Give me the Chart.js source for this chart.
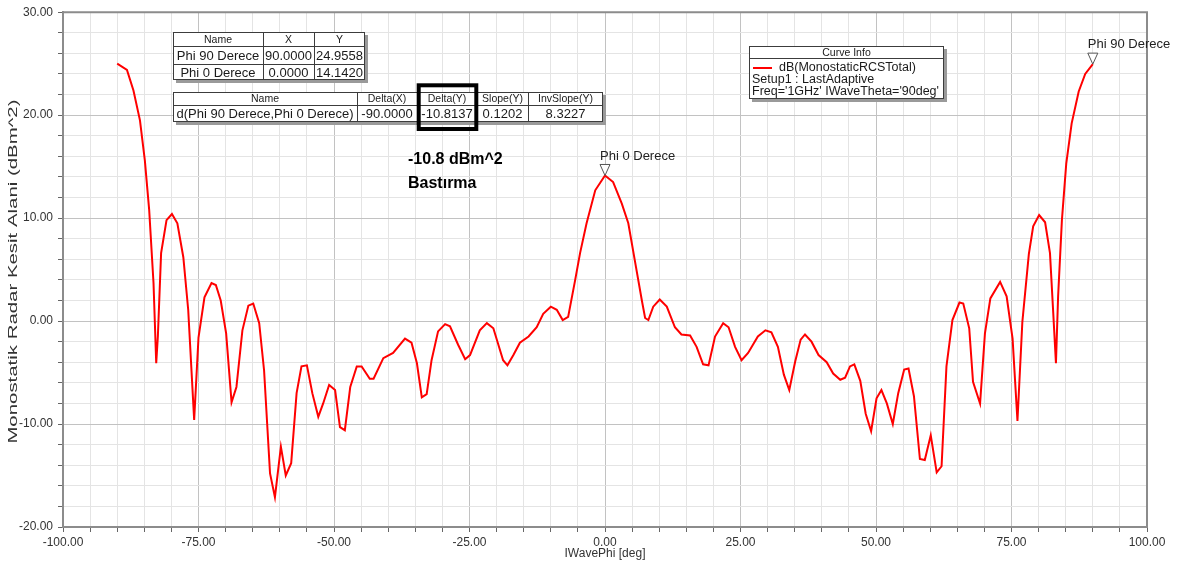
<!DOCTYPE html>
<html><head><meta charset="utf-8">
<script src="https://cdn.jsdelivr.net/npm/chart.js@4.4.1/dist/chart.umd.min.js"></script>
<style>html,body{margin:0;padding:0;background:#fff;}canvas{display:block}</style>
</head><body>
<canvas id="c" width="1177" height="565"></canvas>
<script>
// ---- data ----
const phiDeg = [-90,-88.2,-87,-85.8,-84.9,-84.1,-83.3,-82.8,-82.5,-81.9,
  -80.9,-79.9,-78.9,-77.8,-76.9,-75.8,-75,-73.9,-72.6,-71.8,
  -70.9,-69.9,-68.9,-68,-66.9,-65.8,-64.9,-63.8,-62.9,-61.8,
  -60.9,-59.8,-58.9,-57.9,-56.9,-56,-55,-54,-52.9,-52,
  -50.9,-49.8,-48.9,-48,-47,-45.8,-44.9,-43.4,-42.7,-40.9,
  -39.1,-36.9,-35.7,-34.7,-33.8,-32.9,-32,-30.8,-29.5,-28.6,
  -27.1,-25.8,-24.9,-23.1,-21.8,-20.6,-18.8,-18,-16.9,-15.7,
  -14.1,-12.6,-11.4,-10,-8.9,-7.8,-6.8,-5.5,-4.6,-3.4,
  -1.8,0,1.5,3.1,4.3,5.5,6.8,7.4,8,8.9,
  10.1,11.4,12.9,14.1,15.7,16.9,18.1,19.1,20.3,21.8,
  22.8,24,25.2,26.4,28.2,29.6,30.7,31.9,33,34,
  35.1,36.1,36.9,38.1,39.4,40.9,42.1,43.4,44.3,45.2,
  46,47.1,48.1,49.1,50.1,51,52,53.1,54.1,55.2,
  56,57,58.1,59,60.1,61.2,62.1,63,64.1,65.4,
  66.1,67.2,67.9,69.2,70.1,71.1,72.9,74.1,75.2,76.1,
  77,78.2,79,80.1,81.2,82.1,82.7,83.2,83.6,84.3,
  85.1,86.1,87.4,88.6,90];
const rcsDb = [25.0,24.4,22.4,19.5,15.6,10.8,3.7,-4.1,-1.5,6.6,
  9.8,10.4,9.5,6.2,1.1,-9.6,-1.6,2.3,3.7,3.5,
  2.0,-1.2,-7.9,-6.4,-0.9,1.5,1.7,-0.2,-4.8,-14.8,
  -17.1,-12.2,-15.0,-13.8,-7.0,-4.4,-4.3,-7.0,-9.3,-8.0,
  -6.2,-6.7,-10.3,-10.6,-6.4,-4.4,-4.4,-5.6,-5.6,-3.6,
  -3.1,-1.7,-2.1,-4.1,-7.4,-7.1,-3.8,-1.0,-0.3,-0.5,
  -2.3,-3.7,-3.3,-0.9,-0.2,-0.7,-3.8,-4.3,-3.3,-2.1,
  -1.5,-0.6,0.7,1.4,1.1,0.1,0.4,4.0,6.6,9.5,
  12.7,14.142,13.5,11.4,9.5,5.9,2.0,0.3,0.1,1.4,
  2.1,1.4,-0.6,-1.3,-1.4,-2.5,-4.2,-4.3,-1.5,-0.2,
  -0.6,-2.5,-3.8,-3.1,-1.5,-0.9,-1.1,-2.5,-5.2,-6.7,
  -3.9,-1.8,-1.3,-2.0,-3.3,-4.0,-5.1,-5.7,-5.5,-4.4,
  -4.2,-5.8,-9.0,-10.7,-7.5,-6.7,-8.0,-10.0,-7.0,-4.7,
  -4.6,-7.3,-13.4,-13.5,-11.1,-14.7,-14.1,-4.4,0.1,1.8,
  1.7,-0.7,-5.9,-8.0,-1.2,2.2,3.8,2.4,-1.7,-9.7,
  -0.1,6.5,9.2,10.3,9.6,6.6,0.8,-4.1,2.4,9.8,
  15.3,19.2,22.3,24.0,24.9558];

const xTickLabels = [-100,-75,-50,-25,0,25,50,75,100];
const yTickLabels = [-20,-10,0,10,20,30];

const markerNames = ['Phi 90 Derece','Phi 0 Derece'];
const markerPhi = [90, 0];
const markerRcs = [24.9558, 14.1420];

const deltaHeader = ['Name','Delta(X)','Delta(Y)','Slope(Y)','InvSlope(Y)'];
const deltaValues = ['d(Phi 90 Derece,Phi 0 Derece)','-90.0000','-10.8137','0.1202','8.3227'];

const curveName = 'dB(MonostaticRCSTotal)';
const curveInfoLines = ['Setup1 : LastAdaptive', "Freq='1GHz' IWaveTheta='90deg'"];
const noteLines = ['-10.8 dBm^2', 'Bastırma'];
const xTitle = 'IWavePhi [deg]';
const yTitle = 'Monostatik Radar Kesit Alani (dBm^2)';

// ---- styling ----
const FONT = "'Liberation Sans', Arial, sans-serif";
const gridMinor = '#e4e4e4', gridMajor = '#c2c2c2';

function drawTable(ctx, cols, rows, cells, fonts) {
  const L = cols[0], R = cols[cols.length-1], T = rows[0], B = rows[rows.length-1];
  ctx.fillStyle = '#9a9a9a';
  ctx.fillRect(L+3, T+3, R-L, B-T);
  ctx.fillStyle = '#ffffff';
  ctx.fillRect(L, T, R-L, B-T);
  ctx.strokeStyle = '#3c3c3c';
  ctx.lineWidth = 1;
  ctx.strokeRect(L+0.5, T+0.5, R-L-1, B-T-1);
  ctx.beginPath();
  for (let i = 1; i < cols.length-1; i++) { ctx.moveTo(cols[i]+0.5, T); ctx.lineTo(cols[i]+0.5, B); }
  for (let j = 1; j < rows.length-1; j++) { ctx.moveTo(L, rows[j]+0.5); ctx.lineTo(R, rows[j]+0.5); }
  ctx.stroke();
  ctx.fillStyle = '#1a1a1a';
  ctx.textAlign = 'center';
  ctx.textBaseline = 'middle';
  for (let j = 0; j < cells.length; j++) {
    ctx.font = fonts[j];
    for (let i = 0; i < cells[j].length; i++) {
      ctx.fillText(cells[j][i], (cols[i]+cols[i+1])/2, (rows[j]+rows[j+1])/2 + 1);
    }
  }
}

const annot = {
  id: 'annot',
  beforeDatasetsDraw(chart) {
    const {ctx, chartArea: a} = chart;
    ctx.save();
    ctx.strokeStyle = '#8c8c8c';
    ctx.lineWidth = 2;
    ctx.beginPath();
    ctx.moveTo(a.left, a.top); ctx.lineTo(a.right, a.top); ctx.lineTo(a.right, a.bottom);
    ctx.stroke();
    ctx.restore();
  },
  afterDraw(chart) {
    const {ctx, chartArea: a} = chart;
    const xs = chart.scales.x, ys = chart.scales.y;
    ctx.save();
    // y title (stretched like source)
    ctx.save();
    ctx.translate(14, (a.top + a.bottom)/2 + 2);
    ctx.rotate(-Math.PI/2);
    ctx.scale(1.7, 1);
    ctx.font = '12px ' + FONT;
    ctx.fillStyle = '#333';
    ctx.textAlign = 'center';
    ctx.textBaseline = 'middle';
    ctx.fillText(yTitle, 0, 0);
    ctx.restore();

    // markers
    for (let k = 0; k < markerNames.length; k++) {
      const px = xs.getPixelForValue(markerPhi[k]);
      const py = ys.getPixelForValue(markerRcs[k]);
      ctx.beginPath();
      ctx.moveTo(px-5, py-11); ctx.lineTo(px+5, py-11); ctx.lineTo(px, py); ctx.closePath();
      ctx.fillStyle = '#ffffff'; ctx.fill();
      ctx.strokeStyle = '#555'; ctx.lineWidth = 1; ctx.stroke();
      ctx.font = '13px ' + FONT;
      ctx.fillStyle = '#222';
      ctx.textAlign = 'left'; ctx.textBaseline = 'middle';
      ctx.fillText(markerNames[k], px-5, py-19.5);
    }

    // marker table
    const t1 = [['Name','X','Y']];
    for (let k = 0; k < markerNames.length; k++) t1.push([markerNames[k], markerPhi[k].toFixed(4), markerRcs[k].toFixed(4)]);
    drawTable(ctx, [173,263,314,365], [32,46,64,80], t1,
      ['10.5px '+FONT, '13px '+FONT, '13px '+FONT]);
    // delta table
    drawTable(ctx, [173,357,417,477,528,603], [92,105,122], [deltaHeader, deltaValues],
      ['10.5px '+FONT, '13px '+FONT]);
    // highlight box
    ctx.strokeStyle = '#000'; ctx.lineWidth = 4;
    ctx.strokeRect(418.7, 85.3, 57.6, 43.7);

    // note text
    ctx.fillStyle = '#000';
    ctx.font = 'bold 16px ' + FONT;
    ctx.textAlign = 'left'; ctx.textBaseline = 'middle';
    ctx.fillText(noteLines[0], 408, 160);
    ctx.fillText(noteLines[1], 408, 184);

    // curve info box
    const L = 749, R = 944, T = 46, H = 58, B = 99;
    ctx.fillStyle = '#9a9a9a'; ctx.fillRect(L+3, T+3, R-L, B-T);
    ctx.fillStyle = '#fff'; ctx.fillRect(L, T, R-L, B-T);
    ctx.strokeStyle = '#3c3c3c'; ctx.lineWidth = 1;
    ctx.strokeRect(L+0.5, T+0.5, R-L-1, B-T-1);
    ctx.beginPath(); ctx.moveTo(L, H+0.5); ctx.lineTo(R, H+0.5); ctx.stroke();
    ctx.fillStyle = '#1a1a1a';
    ctx.font = '10.5px ' + FONT; ctx.textAlign = 'center';
    ctx.fillText('Curve Info', (L+R)/2, (T+H)/2 + 1);
    const ds = chart.data.datasets[0];
    ctx.strokeStyle = ds.borderColor; ctx.lineWidth = 2;
    ctx.beginPath(); ctx.moveTo(753, 68); ctx.lineTo(772, 68); ctx.stroke();
    ctx.font = '12.5px ' + FONT; ctx.textAlign = 'left';
    ctx.fillText(ds.label, 779, 68);
    ctx.fillText(curveInfoLines[0], 752, 80);
    ctx.fillText(curveInfoLines[1], 752, 92);
    ctx.restore();
  }
};

new Chart(document.getElementById('c'), {
  type: 'line',
  data: {
    datasets: [{
      label: curveName,
      data: phiDeg.map((p, i) => ({x: p, y: rcsDb[i]})),
      borderColor: '#ff0000',
      borderWidth: 2,
      pointRadius: 0,
      tension: 0,
      fill: false
    }]
  },
  options: {
    responsive: false,
    animation: false,
    devicePixelRatio: 1,
    layout: {padding: {top: 12, right: 30, bottom: 0, left: 0}},
    plugins: {legend: {display: false}, tooltip: {enabled: false}},
    scales: {
      x: {
        type: 'linear', min: -100, max: 100,
        afterFit: s => { s.height = 38; },
        ticks: {
          stepSize: 5, autoSkip: false, maxRotation: 0, minRotation: 0, padding: 3,
          color: '#333', font: {family: FONT, size: 12},
          callback: v => xTickLabels.includes(v) ? v.toFixed(2) : ''
        },
        grid: {
          color: c => (c.tick && Math.abs(c.tick.value % 25) < 1e-9) ? gridMajor : gridMinor,
          tickColor: '#666', tickLength: 5, lineWidth: 1
        },
        border: {color: '#8c8c8c', width: 2},
        title: {display: true, text: xTitle, color: '#333', font: {family: FONT, size: 12}, padding: {top: 0, bottom: 4}}
      },
      y: {
        type: 'linear', min: -20, max: 30,
        afterFit: s => { s.width = 63; },
        ticks: {
          stepSize: 2, autoSkip: false, padding: 5,
          color: '#333', font: {family: FONT, size: 12},
          callback: v => yTickLabels.includes(v) ? v.toFixed(2) : ''
        },
        grid: {
          color: c => (c.tick && Math.abs(c.tick.value % 10) < 1e-9) ? gridMajor : gridMinor,
          tickColor: '#666', tickLength: 5, lineWidth: 1
        },
        border: {color: '#8c8c8c', width: 2},
        title: {display: false}
      }
    }
  },
  plugins: [annot]
});
</script>
</body></html>
